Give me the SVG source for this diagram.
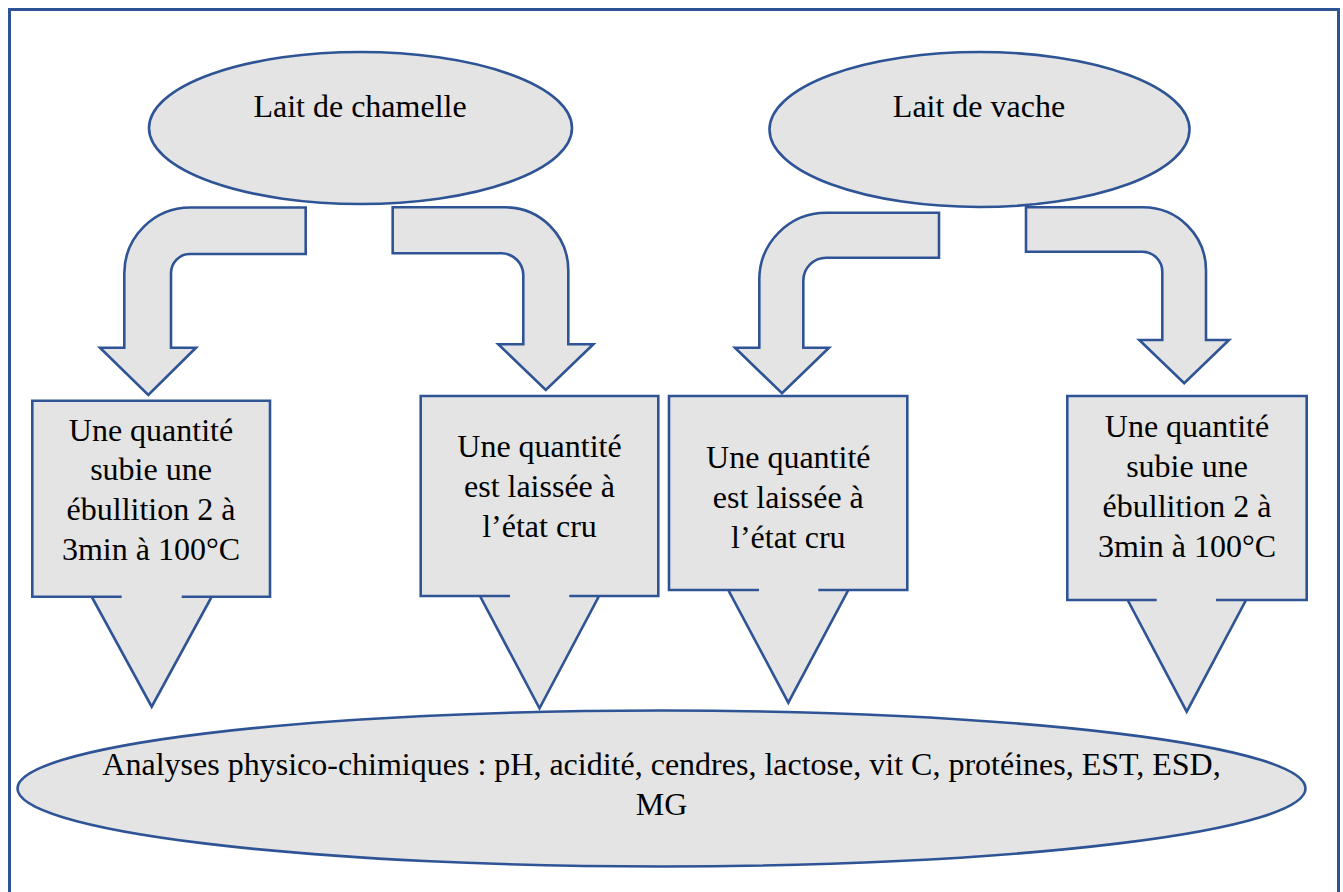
<svg xmlns="http://www.w3.org/2000/svg" width="1343" height="892" viewBox="0 0 1343 892">
<style>
.s{fill:#E4E4E4;stroke:#2F5496;stroke-width:2.6;stroke-linejoin:miter}
.t{font-family:"Liberation Serif","Times New Roman",serif;font-size:32px;fill:#000;text-anchor:middle}
</style>
<rect x="0" y="0" width="1343" height="892" fill="#fff"/>
<rect id="frame" x="9.5" y="9.5" width="1329" height="900" fill="none" stroke="#2F5496" stroke-width="3"/>
<g id="connectors">
<path id="a1" class="s" d="M305.7,207.5 H190.3 A66,66 0 0 0 124.3,273.5 V347.7 H100 L148.3,395 L196,347.7 H171 V273 A19,19 0 0 1 190,254 H305.7 Z"/>
<path id="a2" class="s" d="M392.7,207.3 H505.3 A63,63 0 0 1 568.3,270.3 V344.3 H593.3 L545.8,390 L498.3,344.3 H523.3 V275.3 A22,22 0 0 0 501.3,253.3 H392.7 Z"/>
<path id="a3" class="s" d="M939,212.7 H826.3 A67,67 0 0 0 759.3,279.7 V347.7 H735 L782,393.3 L829,347.7 H803.3 V280.7 A23,23 0 0 1 826.3,257.7 H939 Z"/>
<path id="a4" class="s" d="M1026,207.3 H1143 A63,63 0 0 1 1206,270.3 V340 H1229 L1184.2,383.3 L1139.3,340 H1162.3 V271.7 A20,20 0 0 0 1142.3,251.7 H1026 Z"/>
</g>
<g id="n-chamelle">
<ellipse class="s" cx="360.5" cy="128" rx="211.5" ry="76"/>
<text class="t" x="360" y="117">Lait de chamelle</text>
</g>
<g id="n-vache">
<ellipse class="s" cx="979.5" cy="129.5" rx="210" ry="77.5"/>
<text class="t" x="979" y="117">Lait de vache</text>
</g>
<g id="n-analyses">
<ellipse class="s" cx="661.5" cy="788.5" rx="644" ry="78"/>
<text class="t" x="661.5" y="775">Analyses physico-chimiques : pH, acidité, cendres, lactose, vit C, protéines, EST, ESD,</text>
<text class="t" x="661.5" y="815">MG</text>
</g>
<g id="n-box1">
<path class="s" d="M32.3,400.7 H270 V596.7 H181.7 H211.7 L151.7,706.7 L91.7,596.7 H121.7 H32.3 Z"/>
<text class="t" x="151" y="440.7">Une quantité</text>
<text class="t" x="151" y="480.4">subie une</text>
<text class="t" x="151" y="520.1">ébullition 2 à</text>
<text class="t" x="151" y="559.8">3min à 100°C</text>
</g>
<g id="n-box2">
<path class="s" d="M420.7,396 H658.3 V596 H569.3 H599 L539.5,708.3 L480,596 H510 H420.7 Z"/>
<text class="t" x="539.5" y="457">Une quantité</text>
<text class="t" x="539.5" y="497">est laissée à</text>
<text class="t" x="539.5" y="537">l’état cru</text>
</g>
<g id="n-box3">
<path class="s" d="M669,396 H907.3 V590 H818.3 H848.3 L788.3,702.7 L728.3,590 H759 H669 Z"/>
<text class="t" x="788.3" y="468.3">Une quantité</text>
<text class="t" x="788.3" y="508.3">est laissée à</text>
<text class="t" x="788.3" y="548.3">l’état cru</text>
</g>
<g id="n-box4">
<path class="s" d="M1067.3,396 H1306.7 V600 H1216 H1246 L1186.7,711.7 L1127.7,600 H1156.7 H1067.3 Z"/>
<text class="t" x="1187" y="436.7">Une quantité</text>
<text class="t" x="1187" y="476.7">subie une</text>
<text class="t" x="1187" y="516.7">ébullition 2 à</text>
<text class="t" x="1187" y="556.7">3min à 100°C</text>
</g>
</svg>
